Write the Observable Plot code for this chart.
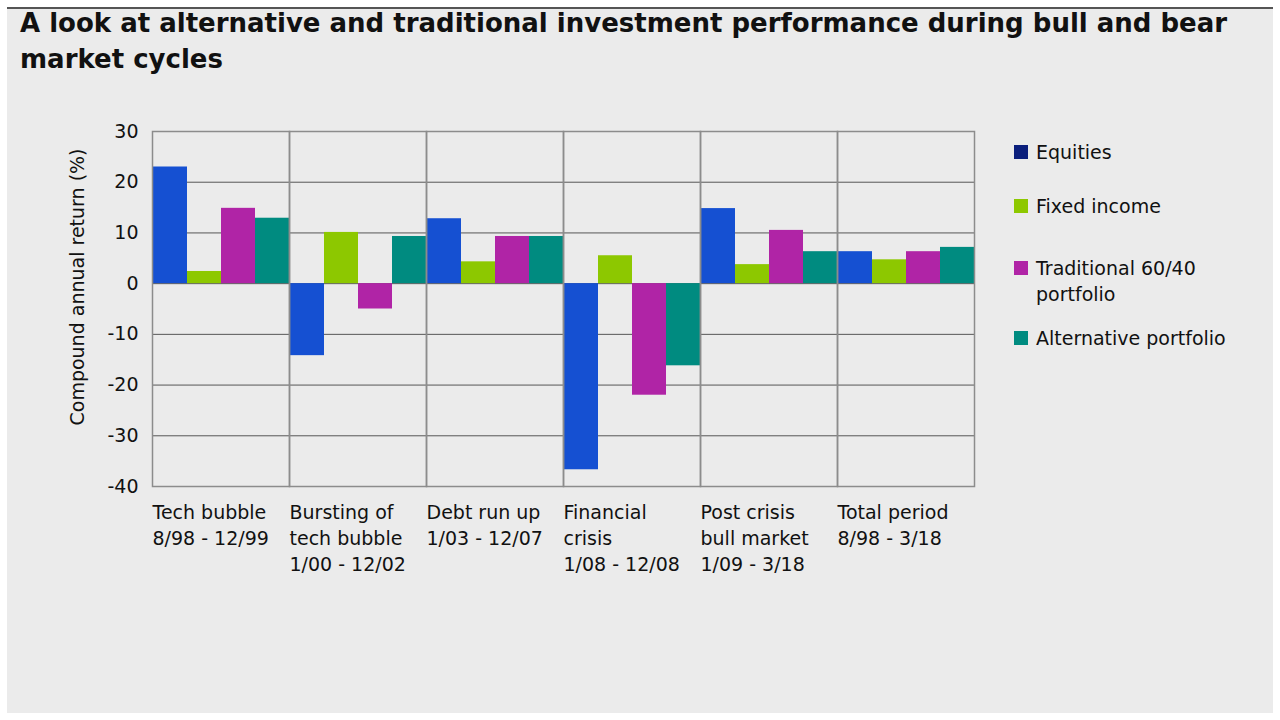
<!DOCTYPE html>
<html>
<head>
<meta charset="utf-8">
<script src="https://cdn.jsdelivr.net/npm/d3@7"></script>
<script src="https://cdn.jsdelivr.net/npm/@observablehq/plot@0.6"></script>
<style>
  html, body { margin: 0; padding: 0; background: #ffffff; width: 1280px; height: 720px; overflow: hidden; }
  #panel { position: absolute; left: 7px; top: 7px; width: 1266px; height: 706px; background: #ebebeb; border-top: 2px solid #555; box-sizing: border-box; }
  #title { position: absolute; left: 20px; top: 5px; width: 1240px; font-family: "DejaVu Sans", sans-serif; font-weight: bold; font-size: 26px; line-height: 36px; color: #111; letter-spacing: 0px; }
  #chart { position: absolute; left: 0; top: 100px; }
  #ylabel { position: absolute; left: 77px; top: 287px; transform: translate(-50%, -50%) rotate(-90deg); white-space: nowrap; font-family: "DejaVu Sans", sans-serif; font-size: 19px; color: #111; }
  #legend { position: absolute; left: 1014px; top: 139px; font-family: "DejaVu Sans", sans-serif; font-size: 19px; color: #111; }
  .item { display: flex; align-items: flex-start; width: 230px; line-height: 26px; }
  .sw { width: 14px; height: 14px; margin-top: 6px; margin-right: 8px; flex: none; }
  .item:nth-child(2) { margin-top: 28px; }
  .item:nth-child(3) { margin-top: 36px; }
  .item:nth-child(4) { margin-top: 18px; }
  .lbl { width: 200px; }
</style>
</head>
<body>
<div id="panel"></div>
<div id="title">A look at alternative and traditional investment performance during bull and bear market cycles</div>
<div id="chart"></div>
<div id="ylabel"></div>
<div id="legend"></div>
<script>
const periods = [
  "Tech bubble\n8/98 - 12/99",
  "Bursting of\ntech bubble\n1/00 - 12/02",
  "Debt run up\n1/03 - 12/07",
  "Financial\ncrisis\n1/08 - 12/08",
  "Post crisis\nbull market\n1/09 - 3/18",
  "Total period\n8/98 - 3/18"
];
const series = ["Equities", "Fixed income", "Traditional 60/40 portfolio", "Alternative portfolio"];
const equities    = [23.0, -14.2, 12.8, -36.7, 14.8, 6.3];
const fixedIncome = [2.4, 10.1, 4.3, 5.5, 3.75, 4.7];
const traditional = [14.85, -5.0, 9.3, -22.0, 10.5, 6.3];
const alternative = [12.9, 9.3, 9.3, -16.2, 6.3, 7.15];
const barColors = ["#1550d2", "#8dc800", "#b024a6", "#008b80"];
const legendColors = ["#0b1f7c", "#8dc800", "#b024a6", "#008b80"];
const yTicks = [-40, -30, -20, -10, 0, 10, 20, 30];
const yLabel = "Compound annual return (%)";

const valuesBySeries = [equities, fixedIncome, traditional, alternative];
const data = [];
periods.forEach((p, i) => {
  series.forEach((s, j) => data.push({period: p, series: s, value: valuesBySeries[j][i]}));
});

const W = 1000, H = 500, ML = 152, MR = 26, MT = 31, MB = 114;
const half = (W - ML - MR) / periods.length / 2;

const chart = Plot.plot({
  width: W,
  height: H,
  marginLeft: ML,
  marginRight: MR,
  marginTop: MT,
  marginBottom: MB,
  style: {fontFamily: "DejaVu Sans, sans-serif", fontSize: "19px", color: "#111", background: "transparent", overflow: "visible"},
  fx: {domain: periods, padding: 0, label: null, axis: null},
  x: {domain: series, padding: 0, axis: null},
  y: {domain: [-40, 30], axis: null},
  color: {domain: series, range: barColors},
  marks: [
    Plot.gridY(yTicks, {stroke: "#555", strokeOpacity: 1, strokeWidth: 1}),
    Plot.barY(data, {fx: "period", x: "series", y: "value", fill: "series", inset: 0}),
    Plot.frame({stroke: "#8c8c8c", strokeWidth: 1.5}),
    Plot.axisY(yTicks, {tickSize: 0, tickPadding: 14, tickFormat: d => String(d), label: null, fontSize: 19}),
    Plot.axisFx({anchor: "bottom", tickSize: 0, tickPadding: 14, textAnchor: "start", dx: -half, lineHeight: 1.37, label: null, fontSize: 19})
  ]
});
document.getElementById("chart").appendChild(chart);
document.getElementById("ylabel").textContent = yLabel;

const legend = document.getElementById("legend");
series.forEach((s, j) => {
  const item = document.createElement("div");
  item.className = "item";
  const sw = document.createElement("div");
  sw.className = "sw";
  sw.style.background = legendColors[j];
  const lbl = document.createElement("div");
  lbl.className = "lbl";
  lbl.textContent = s;
  item.appendChild(sw);
  item.appendChild(lbl);
  legend.appendChild(item);
});
</script>
</body>
</html>
